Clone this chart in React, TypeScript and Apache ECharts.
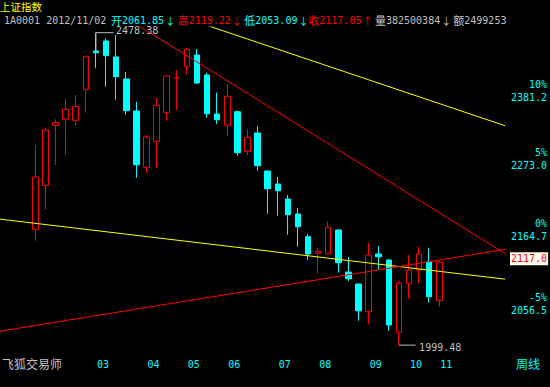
import React, { useEffect, useRef } from 'react';
import * as echarts from 'echarts';

// ---- data (weekly candles, 上证指数 2012) ----
const dates = [
  '2012/01/13', '2012/01/20', '2012/02/03', '2012/02/10', '2012/02/17', '2012/02/24',
  '2012/03/02', '2012/03/09', '2012/03/16', '2012/03/23', '2012/03/30',
  '2012/04/06', '2012/04/13', '2012/04/20', '2012/04/27',
  '2012/05/04', '2012/05/11', '2012/05/18', '2012/05/25',
  '2012/06/01', '2012/06/08', '2012/06/15', '2012/06/21', '2012/06/29',
  '2012/07/06', '2012/07/13', '2012/07/20', '2012/07/27',
  '2012/08/03', '2012/08/10', '2012/08/17', '2012/08/24', '2012/08/31',
  '2012/09/07', '2012/09/14', '2012/09/21', '2012/09/28',
  '2012/10/12', '2012/10/19', '2012/10/26', '2012/11/02',
];
const opens = [
  2165.1, 2231.6, 2325.5, 2335.2, 2333.5, 2383.8, 2447.4, 2464.3, 2437.3, 2400.7, 2348.5,
  2259.4, 2300.1, 2346.4, 2402.5, 2421.8, 2440.7, 2407.3, 2343.7, 2325.5, 2347.4, 2284.3,
  2313.3, 2253.6, 2233.6, 2210.7, 2188.0, 2154.1, 2129.7, 2129.1, 2164.1, 2102.5, 2085.2,
  2045.9, 2128.7, 2119.9, 2017.1, 2086.2, 2105.4, 2117.4, 2061.85,
];
const closes = [
  2244.4, 2318.0, 2330.3, 2351.3, 2356.1, 2438.5, 2444.5, 2439.5, 2404.5, 2349.0, 2263.4,
  2306.9, 2357.7, 2405.7, 2403.5, 2450.2, 2394.1, 2344.1, 2334.5, 2372.4, 2282.1, 2306.4,
  2261.9, 2226.4, 2223.3, 2186.9, 2169.0, 2128.7, 2132.6, 2168.1, 2116.0, 2092.8, 2047.3,
  2127.2, 2124.7, 2027.3, 2086.7, 2105.4, 2128.7, 2067.1, 2117.05,
];
const lows = [
  2148.2, 2195.5, 2262.9, 2278.5, 2324.9, 2345.8, 2418.5, 2388.1, 2366.8, 2342.5, 2243.3,
  2251.0, 2258.8, 2332.9, 2350.1, 2407.8, 2393.0, 2337.7, 2327.6, 2309.0, 2277.4, 2278.5,
  2254.1, 2188.5, 2185.4, 2157.1, 2139.4, 2119.9, 2100.6, 2128.2, 2101.5, 2089.5, 2033.3,
  2028.7, 2106.4, 2019.4, 1999.48, 2064.3, 2086.2, 2058.6, 2053.09,
];
const highs = [
  2294.3, 2322.3, 2335.2, 2368.0, 2374.5, 2439.5, 2478.38, 2468.8, 2474.4, 2412.3, 2363.1,
  2310.1, 2369.6, 2407.3, 2415.6, 2452.9, 2450.7, 2411.1, 2378.2, 2392.5, 2348.5, 2319.6,
  2324.4, 2254.0, 2244.4, 2216.8, 2197.0, 2158.1, 2137.5, 2176.5, 2164.5, 2124.3, 2085.6,
  2145.3, 2140.4, 2120.9, 2089.5, 2127.2, 2139.4, 2137.5, 2119.22,
];
const lastVolume = '382500384';
const lastAmount = '2499253';
const stockCode = '1A0001';
const stockName = '上证指数';

// month tick labels shown on the x axis
const monthLabels = ['03', '04', '05', '06', '07', '08', '09', '10', '11'];
// right axis ticks (price) and the 0% base
const axisTicks = [2056.5, 2164.7, 2273.0, 2381.2];
const basePrice = 2164.7;
const yMinPrice = 1985.96;
const yMaxPrice = 2488.1;

// trend lines: [candle index, price]
const upperYellow = [[15.41, 2500.1], [46.5, 2324.9]];
const upperRed = [[9.33, 2500.1], [46.5, 2129.3]];
const lowerYellow = [[-3.5, 2180.3], [46.5, 2092.2]];
const lowerRed = [[-3.5, 2018.7], [46.5, 2135.5]];

const padLeft = 3;
const padRight = 6;

const CYAN = '#00ffff';
const RED = '#ff0000';
const YELLOW = '#ffff00';
const GRAY = '#c0c0c0';
const MONO = '"DejaVu Sans Mono", "Noto Sans CJK SC", monospace';
const CJK = '"Noto Sans CJK SC", sans-serif';

const ln = Math.log;

export default function App() {
  const ref = useRef<HTMLDivElement>(null);

  useEffect(() => {
    if (!ref.current) return;
    document.body.style.margin = '0';
    document.body.style.background = '#000';
    const chart = echarts.init(ref.current, undefined, { renderer: 'svg' });

    const categories: string[] = [];
    for (let i = 0; i < padLeft; i++) categories.push('padL' + i);
    dates.forEach((d) => categories.push(d));
    for (let i = 0; i < padRight; i++) categories.push('padR' + i);

    const firstOfMonth = new Set<string>();
    dates.forEach((d, i) => {
      const m = d.slice(5, 7);
      if ((i === 0 || dates[i - 1].slice(5, 7) !== m) && monthLabels.includes(m)) firstOfMonth.add(d);
    });

    const n = dates.length;
    const last = n - 1;
    const candleData = dates.map((d, i) => [d, ln(opens[i]), ln(closes[i]), ln(lows[i]), ln(highs[i])]);

    let hiIdx = 0;
    let loIdx = 0;
    highs.forEach((h, i) => { if (h > highs[hiIdx]) hiIdx = i; });
    lows.forEach((l, i) => { if (l < lows[loIdx]) loIdx = i; });
    const hi = highs[hiIdx];
    const lo = lows[loIdx];

    const toLine = (pts: number[][]) => pts.map((p) => [p[0], ln(p[1])]);

    const lineSeries = (name: string, pts: number[][], color: string) => ({
      name,
      type: 'line',
      xAxisIndex: 1,
      yAxisIndex: 0,
      data: toLine(pts),
      symbol: 'none',
      silent: true,
      clip: true,
      lineStyle: { color, width: 1 },
      z: 5,
    });

    const hiLeader = [[hiIdx, Math.max(opens[hiIdx], closes[hiIdx])], [hiIdx, hi], [hiIdx + 1.74, hi]];
    const loLeader = [[loIdx, lo], [loIdx + 1.65, lo]];

    const richHeader = {
      k: { fontSize: 11, fontFamily: CJK },
      n: { fontSize: 10, fontFamily: MONO },
      a: { fontSize: 10, fontFamily: CJK, padding: [0, 0, 0, 1] },
    };
    const header = (x: number, key: string, num: string, arr: string, fill: string) => ({
      type: 'text',
      x,
      y: 20,
      style: {
        text: (key ? '{k|' + key + '}' : '') + '{n|' + num + '}' + (arr ? '{a|' + arr + '}' : ''),
        rich: richHeader,
        fill,
        fontSize: 10,
        fontFamily: MONO,
        verticalAlign: 'middle',
      },
    });

    const o = opens[last];
    const h = highs[last];
    const l = lows[last];
    const c = closes[last];
    const arrow = (cur: number, prev: number) => (cur >= prev ? '↑' : '↓');
    const trunc1 = (v: number) => (Math.floor(v * 10 + 1e-6) / 10).toFixed(1);

    const option = {
      animation: false,
      backgroundColor: '#000',
      grid: { left: -1, right: 45, top: 27, bottom: 32 },
      xAxis: [
        {
          type: 'category',
          data: categories,
          boundaryGap: true,
          axisLine: { show: false },
          axisTick: { show: false },
          splitLine: { show: false },
          axisLabel: {
            interval: 0,
            color: CYAN,
            fontSize: 10,
            fontFamily: MONO,
            align: 'left',
            padding: [0, 0, 0, 1],
            margin: 4,
            formatter: (v: string) => (firstOfMonth.has(v) ? v.slice(5, 7) : ''),
          },
        },
        {
          type: 'value',
          show: false,
          min: -0.5 - padLeft,
          max: n + padRight - 0.5,
        },
      ],
      yAxis: [
        {
          type: 'value',
          position: 'right',
          min: ln(yMinPrice),
          max: ln(yMaxPrice),
          axisLine: { show: false },
          axisTick: { show: false },
          splitLine: { show: false },
          axisLabel: {
            customValues: axisTicks.map(ln),
            color: CYAN,
            fontSize: 10,
            fontFamily: MONO,
            align: 'right',
            verticalAlign: 'middle',
            lineHeight: 13,
            padding: [13, 0, 0, 0],
            margin: 42,
            formatter: (v: number) => {
              const p = Math.exp(v);
              let t = axisTicks[0];
              axisTicks.forEach((a) => { if (Math.abs(a - p) < Math.abs(t - p)) t = a; });
              const pct = Math.round((t / basePrice - 1) * 100);
              return pct + '%\n' + t.toFixed(1);
            },
          },
        },
      ],
      series: [
        {
          name: 'K',
          type: 'candlestick',
          xAxisIndex: 0,
          yAxisIndex: 0,
          data: candleData,
          encode: { x: 0, y: [1, 2, 3, 4] },
          barWidth: 6,
          silent: true,
          itemStyle: {
            color: '#000',
            color0: CYAN,
            borderColor: RED,
            borderColor0: CYAN,
            borderWidth: 1,
          },
          markLine: {
            silent: true,
            symbol: ['none', 'none'],
            lineStyle: { color: 'rgba(0,0,0,0)', width: 0 },
            label: {
              show: true,
              position: 'end',
              distance: 5,
              formatter: trunc1(c),
              color: RED,
              backgroundColor: '#fffff0',
              fontSize: 10,
              fontFamily: MONO,
              padding: [2, 1, 1, 1],
            },
            data: [{ yAxis: ln(c) }],
          },
          z: 3,
        },
        lineSeries('upperYellow', upperYellow, YELLOW),
        lineSeries('upperRed', upperRed, RED),
        lineSeries('lowerYellow', lowerYellow, YELLOW),
        lineSeries('lowerRed', lowerRed, RED),
        {
          name: 'hiLeader',
          type: 'line',
          xAxisIndex: 1,
          yAxisIndex: 0,
          data: toLine(hiLeader),
          symbol: 'none',
          silent: true,
          lineStyle: { color: GRAY, width: 1 },
          z: 6,
          markPoint: {
            silent: true,
            symbol: 'circle',
            symbolSize: 1,
            itemStyle: { color: 'rgba(0,0,0,0)' },
            label: {
              show: true,
              position: 'right',
              distance: 2,
              offset: [0, -2],
              color: GRAY,
              fontSize: 10,
              fontFamily: MONO,
              formatter: hi.toFixed(2),
            },
            data: [{ coord: [hiIdx + 1.74, ln(hi)] }],
          },
        },
        {
          name: 'loLeader',
          type: 'line',
          xAxisIndex: 1,
          yAxisIndex: 0,
          data: toLine(loLeader),
          symbol: 'none',
          silent: true,
          lineStyle: { color: GRAY, width: 1 },
          z: 6,
          markPoint: {
            silent: true,
            symbol: 'circle',
            symbolSize: 1,
            itemStyle: { color: 'rgba(0,0,0,0)' },
            label: {
              show: true,
              position: 'right',
              distance: 3,
              offset: [0, 2],
              color: GRAY,
              fontSize: 10,
              fontFamily: MONO,
              formatter: lo.toFixed(2),
            },
            data: [{ coord: [loIdx + 1.65, ln(lo)] }],
          },
        },
      ],
      graphic: [
        {
          type: 'text',
          x: 0,
          y: 6,
          style: { text: stockName, fill: YELLOW, fontSize: 10.5, fontFamily: CJK, verticalAlign: 'middle' },
        },
        header(4, '', stockCode + ' ' + dates[last], '', GRAY),
        header(111, '开', o.toFixed(2), arrow(o, opens[last - 1]), CYAN),
        header(177.7, '高', h.toFixed(2), arrow(h, highs[last - 1]), RED),
        header(244.3, '低', l.toFixed(2), arrow(l, lows[last - 1]), CYAN),
        header(308.3, '收', c.toFixed(2), arrow(c, closes[last - 1]), RED),
        header(375, '量', lastVolume, '↓', GRAY),
        header(453.3, '额', lastAmount, '', GRAY),
        {
          type: 'text',
          x: 2,
          y: 363,
          style: { text: '飞狐交易师', fill: GRAY, fontSize: 12, fontFamily: CJK, verticalAlign: 'middle' },
        },
        {
          type: 'text',
          x: 516,
          y: 363,
          style: { text: '周线', fill: CYAN, fontSize: 12, fontFamily: CJK, verticalAlign: 'middle' },
        },
      ],
    };

    chart.setOption(option as any);
    return () => chart.dispose();
  }, []);

  return (
    <div
      ref={ref}
      style={{ position: 'fixed', left: 0, top: 0, width: 550, height: 387, background: '#000' }}
    />
  );
}
